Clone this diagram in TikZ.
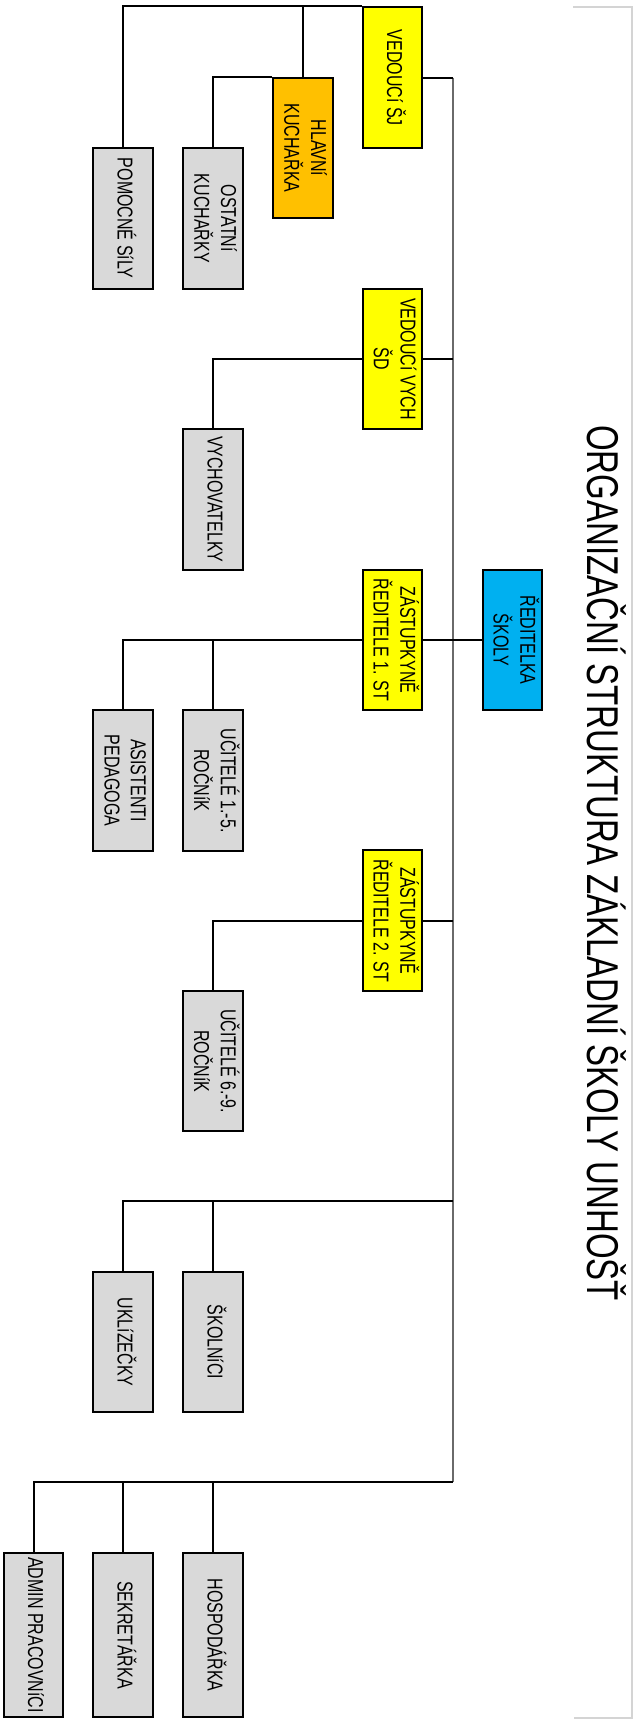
\documentclass[tikz,border=0pt]{standalone}
\usepackage{fontspec}
\setmainfont{Liberation Sans}
\usepackage{graphicx}
\definecolor{boxyellow}{HTML}{FFFF00}
\definecolor{boxorange}{HTML}{FFC000}
\definecolor{boxblue}{HTML}{00B0F0}
\definecolor{boxgray}{HTML}{D9D9D9}
\definecolor{trunkgray}{HTML}{6A6A6A}
\definecolor{framegray}{HTML}{D4D4D4}
\newcommand{\vtxt}[1]{\rotatebox{-90}{\scalebox{1}[1.35]{\begin{tabular}{@{}c@{}}#1\end{tabular}}}}
\tikzset{
  orgbox/.style={draw=black, line width=2pt, minimum width=59.5pt, minimum height=140.5pt, inner sep=0pt, font=\fontsize{16}{19.5}\selectfont},
  lowbox/.style={orgbox, minimum height=164pt},
  yel/.style={orgbox, fill=boxyellow},
  gry/.style={orgbox, fill=boxgray},
  conn/.style={draw=black, line width=2pt},
  trunk/.style={draw=trunkgray, line width=2pt}
}
\begin{document}
\begin{tikzpicture}[x=1pt,y=-1pt]
\useasboundingbox (0,0) rectangle (634,1719);
% page frame edge
\draw[framegray, line width=1.5pt] (573,7) -- (632,7) -- (632,1718) -- (574,1718);
% title
\node[rotate=-90, anchor=base, inner sep=0pt, font=\fontsize{33}{40}\selectfont] (title) at (587,863)
  {\scalebox{1}[1.35]{ORGANIZAČNÍ STRUKTURA ZÁKLADNÍ ŠKOLY UNHOŠŤ}};
% boxes
\node[yel] (sj) at (392.5,77.7) {\vtxt{VEDOUCí ŠJ}};
\node[orgbox, fill=boxorange] (hk) at (303,148) {\vtxt{HLAVNí\\KUCHAŘKA}};
\node[gry] (ok) at (213,218.3) {\vtxt{OSTATNí\\KUCHAŘKY}};
\node[gry] (ps) at (123,218.3) {\vtxt{POMOCNÉ SíLY}};
\node[yel] (vv) at (392.5,358.9) {\vtxt{VEDOUCí VYCH\\ŠD}};
\node[gry] (vy) at (213,499.3) {\vtxt{VYCHOVATELKY}};
\node[yel] (z1) at (392.5,640) {\vtxt{ZÁSTUPKYNĚ\\ŘEDITELE 1. ST}};
\node[orgbox, fill=boxblue] (rs) at (512.5,640) {\vtxt{ŘEDITELKA\\ŠKOLY}};
\node[gry] (u15) at (213,780.5) {\vtxt{UČITELÉ 1.-5.\\ROČNíK}};
\node[gry] (ap) at (123,780.5) {\vtxt{ASISTENTI\\PEDAGOGA}};
\node[yel] (z2) at (392.5,920.7) {\vtxt{ZÁSTUPKYNĚ\\ŘEDITELE 2. ST}};
\node[gry] (u69) at (213,1061.2) {\vtxt{UČITELÉ 6.-9.\\ROČNíK}};
\node[gry] (sk) at (213,1342) {\vtxt{ŠKOLNíCI}};
\node[gry] (uk) at (123,1342) {\vtxt{UKLíZEČKY}};
\node[gry, lowbox] (ho) at (213,1635) {\vtxt{HOSPODÁŘKA}};
\node[gry, lowbox] (se) at (123,1635) {\vtxt{SEKRETÁŘKA}};
\node[gry, lowbox] (ad) at (33.5,1635) {\vtxt{ADMIN PRACOVNíCI}};
% trunk
\coordinate (tt) at (452.5,77.7);
\coordinate (tb) at (452.5,1482.3);
\coordinate (cb) at (452.5,1201.3);
\draw[trunk] (tt) -- (tb);
% connectors
\draw[conn] (sj.east) -- (tt);
\draw[conn] (vv.east) -- (vv.east -| tt);
\draw[conn] (rs.west) -- (z1.east);
\draw[conn] (z2.east) -- (z2.east -| tt);
\draw[conn] (cb) -| (uk.north);
\draw[conn] (sk.north) -- (sk.north |- cb);
\draw[conn] (tb) -| (ad.north);
\draw[conn] (se.north) -- (se.north |- tb);
\draw[conn] (ho.north) -- (ho.north |- tb);
\draw[conn] (sj.north west) -| (ps.north);
\draw[conn] (hk.north) -- (hk.north |- sj.north west);
\draw[conn] (hk.north west) -| (ok.north);
\draw[conn] (vv.west) -| (vy.north);
\draw[conn] (z1.west) -| (ap.north);
\draw[conn] (u15.north) -- (u15.north |- z1.west);
\draw[conn] (z2.west) -| (u69.north);
\end{tikzpicture}
\end{document}
